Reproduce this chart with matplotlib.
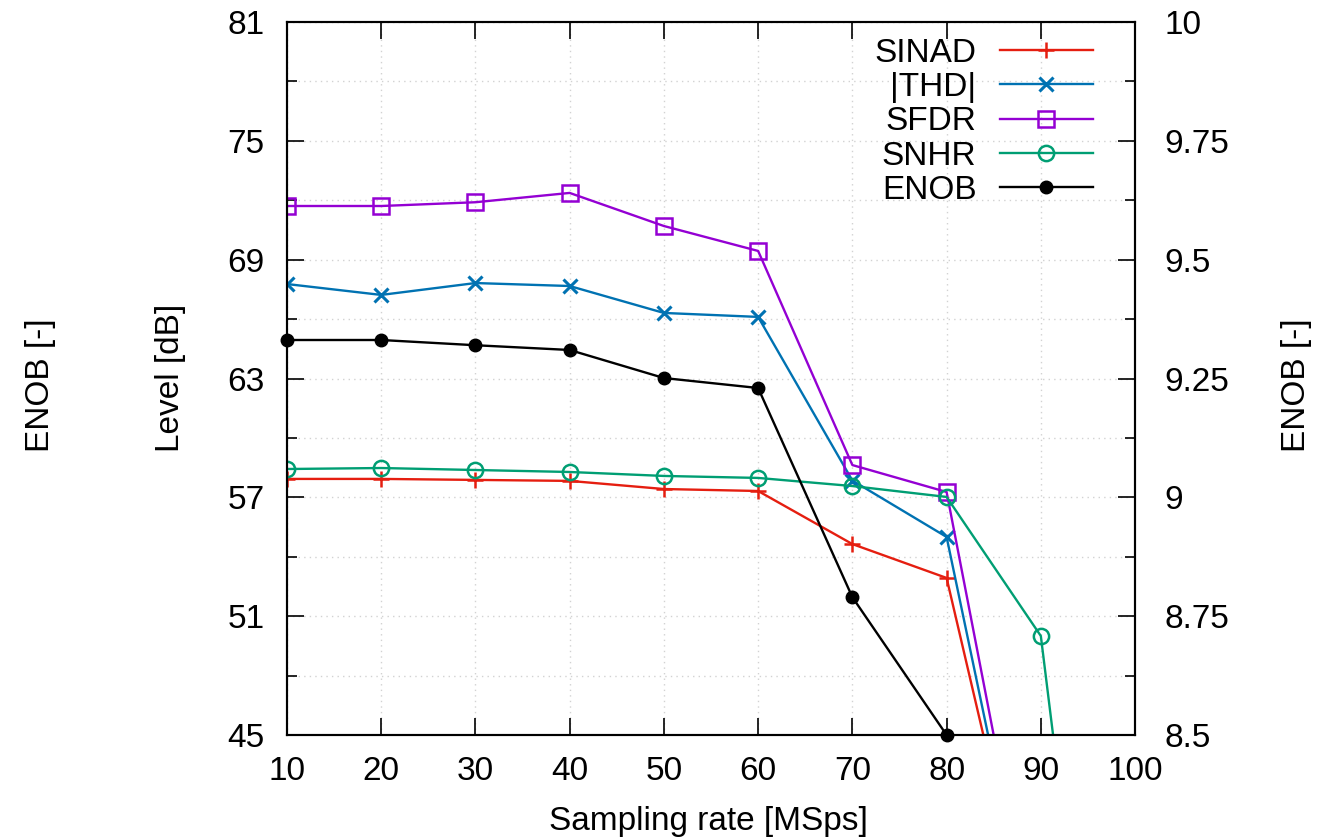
import matplotlib
matplotlib.use("Agg")
import matplotlib.pyplot as plt
from matplotlib.ticker import MultipleLocator

plt.rcParams['font.family'] = ['Liberation Sans', 'DejaVu Sans']

rate = [10, 20, 30, 40, 50, 60, 70, 80, 90]
sinad = [57.93, 57.93, 57.88, 57.83, 57.42, 57.32, 54.64, 52.93, 32.6]
thd = [67.77, 67.22, 67.82, 67.67, 66.31, 66.11, 57.85, 55.0, 32.3]
sfdr = [71.71, 71.71, 71.9, 72.37, 70.7, 69.44, 58.63, 57.27, 32.7]
snhr_rate = [10, 20, 30, 40, 50, 60, 70, 80, 90, 100]
snhr = [58.43, 58.48, 58.38, 58.28, 58.08, 57.98, 57.57, 57.02, 50.0, 11.5]
enob_rate = [10, 20, 30, 40, 50, 60, 70, 80]
enob = [9.331, 9.331, 9.32, 9.31, 9.251, 9.23, 8.79, 8.5]

yticks_left = [45, 51, 57, 63, 69, 75, 81]
yticks_right = [8.5, 8.75, 9, 9.25, 9.5, 9.75, 10]
yticklabels_right = ['8.5', '8.75', '9', '9.25', '9.5', '9.75', '10']
xticks = [10, 20, 30, 40, 50, 60, 70, 80, 90, 100]

fig = plt.figure(figsize=(13.39, 8.4), dpi=100)
ax = fig.add_axes([0.2143, 0.125, 0.6334, 0.8488])
ax2 = ax.twinx()

fs = 24
lw = 1.7
ms = 10
l1, = ax.plot(rate, sinad, color='#e51e10', lw=lw, marker='+', ms=ms + 1, mew=1.8, label='SINAD')
l2, = ax.plot(rate, thd, color='#0072b2', lw=lw, marker='x', ms=ms, mew=2.2, label='|THD|')
l3, = ax.plot(rate, sfdr, color='#9400d3', lw=lw, marker='s', ms=ms + 1, mfc='none', mew=1.8, label='SFDR')
l4, = ax.plot(snhr_rate, snhr, color='#009e73', lw=lw, marker='o', ms=ms + 1, mfc='none', mew=1.8, label='SNHR')
l5, = ax2.plot(enob_rate, enob, color='black', lw=lw, marker='o', ms=9, clip_on=False, label='ENOB')

ax.set_xlim(10, 100)
ax.set_ylim(45, 81)
ax2.set_ylim(8.5, 10)

ax.set_xticks(xticks)
ax.set_xticklabels([str(v) for v in xticks])
ax.set_yticks(yticks_left)
ax.set_yticklabels([str(v) for v in yticks_left])
ax.yaxis.set_minor_locator(MultipleLocator(3))
ax2.set_yticks(yticks_right)
ax2.set_yticklabels(yticklabels_right)
ax2.yaxis.set_minor_locator(MultipleLocator(0.125))

ax.tick_params(axis='x', which='major', direction='in', length=12, width=1.2,
               labelsize=fs, top=True, pad=15)
ax.tick_params(axis='y', which='major', direction='in', length=12, width=1.2,
               labelsize=fs, pad=16)
ax.tick_params(axis='y', which='minor', direction='in', length=7, width=1.2)
ax2.tick_params(axis='y', which='major', direction='in', length=12, width=1.2,
                labelsize=fs, pad=21)
ax2.tick_params(axis='y', which='minor', direction='in', length=7, width=1.2)

ax.grid(True, which='major', axis='x', color='#d2d2d2', ls=(0, (1, 3)), lw=1.0)
ax.grid(True, which='both', axis='y', color='#d2d2d2', ls=(0, (1, 3)), lw=1.0)

for sp in list(ax.spines.values()) + list(ax2.spines.values()):
    sp.set_linewidth(1.5)

fig.text(0.529, 0.012, 'Sampling rate [MSps]', fontsize=fs, ha='center', va='baseline')
fig.text(0.127, 0.55, 'Level [dB]', rotation=90, fontsize=fs, ha='center', va='center')
fig.text(0.03, 0.542, 'ENOB [-]', rotation=90, fontsize=fs, ha='center', va='center')
fig.text(0.968, 0.542, 'ENOB [-]', rotation=90, fontsize=fs, ha='center', va='center')

leg = ax2.legend(handles=[l1, l2, l3, l4, l5], loc='upper right', markerfirst=False,
                 frameon=False, fontsize=fs, handlelength=2.8, labelspacing=0.1,
                 borderaxespad=0.0, borderpad=0.0, handletextpad=0.7,
                 bbox_to_anchor=(0.9505, 0.978))
for t in leg.get_texts():
    t.set_ha('right')

fig.savefig('out.png', dpi=100)
